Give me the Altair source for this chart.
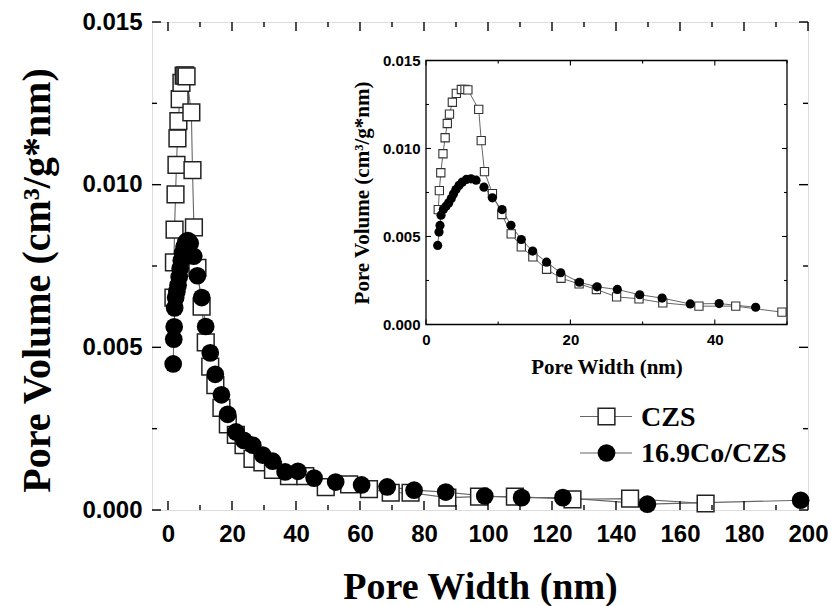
import altair as alt
import pandas as pd

# ---------------- data ----------------
czs_x = [1.70, 1.85, 2.05, 2.35, 2.65, 2.95, 3.25, 3.65, 4.20, 4.90, 5.40, 5.80,
         7.30, 7.65, 8.10, 9.20, 10.5, 11.8, 13.2, 14.8, 16.7, 18.7, 21.2, 23.6,
         26.4, 29.5, 32.8, 37.8, 42.9, 49.3, 56.6, 62.8, 69.6, 75.8, 87.3, 97.2,
         108.4, 126.4, 144.4, 168.0]
czs_y = [0.00653, 0.00761, 0.00862, 0.00970, 0.01061, 0.01142, 0.01195, 0.01263,
         0.01313, 0.01335, 0.01336, 0.01333, 0.01222, 0.01045, 0.00869, 0.00744,
         0.00625, 0.00515, 0.00441, 0.00384, 0.00314, 0.00263, 0.00231, 0.00199,
         0.00157, 0.00146, 0.00123, 0.00104, 0.00104, 0.00070, 0.00079, 0.00064,
         0.00053, 0.00053, 0.00038, 0.00041, 0.00041, 0.00033, 0.00035, 0.00020]

co_x = [1.62, 1.80, 1.94, 2.08, 2.40, 2.77, 3.14, 3.50, 3.80, 4.15, 4.57, 5.03,
        5.60, 6.23, 6.93, 8.03, 9.19, 10.53, 11.77, 13.2, 14.77, 16.7, 18.65,
        21.24, 23.7, 26.5, 29.6, 32.7, 36.6, 40.6, 45.66, 52.4, 60.5, 68.5, 76.9,
        86.8, 99.0, 110.5, 123.4, 149.8, 197.7]
co_y = [0.00449, 0.00525, 0.00563, 0.00621, 0.00653, 0.00672, 0.00691, 0.00716,
        0.00742, 0.00767, 0.00790, 0.00809, 0.00824, 0.00828, 0.00820, 0.00780,
        0.00720, 0.00653, 0.00564, 0.00483, 0.00417, 0.00354, 0.00294, 0.00240,
        0.00214, 0.00199, 0.00169, 0.00150, 0.00117, 0.00119, 0.00098, 0.00086,
        0.00077, 0.00071, 0.00061, 0.00055, 0.00043, 0.00038, 0.00038, 0.00018,
        0.00030]

legend_labels = ["CZS", "16.9Co/CZS"]

main_x_domain = [-5, 200]
main_y_domain = [0, 0.015]
main_x_major = [0, 20, 40, 60, 80, 100, 120, 140, 160, 180, 200]
main_x_minor = [10, 30, 50, 70, 90, 110, 130, 150, 170, 190]
main_y_major = [0, 0.005, 0.010, 0.015]
main_y_minor = [0.0025, 0.0075, 0.0125]

inset_x_domain = [0, 50]
inset_y_domain = [0, 0.015]
inset_x_major = [0, 20, 40]
inset_x_minor = [10, 30, 50]
inset_y_major = [0, 0.005, 0.010, 0.015]
inset_y_minor = [0.0025, 0.0075, 0.0125]

# ---------------- layout / style ----------------
W, H = 656, 488
IN_L, IN_R, IN_T, IN_B = 274, 635, 38.5, 302.5

SANS = "Liberation Sans"
SERIF = "Liberation Serif"
LINE_COLOR = "#666666"

czs_df = pd.DataFrame({"x": czs_x, "y": czs_y})
co_df = pd.DataFrame({"x": co_x, "y": co_y})
czs_in = czs_df[czs_df.x <= 50.5]
co_in = co_df[co_df.x <= 50.5]

# ---------------- main plot ----------------
xs = alt.Scale(domain=main_x_domain, nice=False, zero=False)
ys = alt.Scale(domain=main_y_domain, nice=False, zero=False)

x_axis = alt.Axis(values=main_x_major, format="d", ticks=False, domain=False, grid=False,
                  labelFont=SANS, labelFontWeight="bold", labelFontSize=24, labelColor="black",
                  labelPadding=12, labelFlush=False, labelOverlap=False,
                  title="Pore Width (nm)", titleFont=SERIF, titleFontSize=38,
                  titleFontWeight="bold", titleColor="black", titleY=88,
                  titleBaseline="alphabetic")
y_axis = alt.Axis(values=main_y_major, format=".3f", ticks=False, domain=False, grid=False,
                  labelFont=SANS, labelFontWeight="bold", labelFontSize=24, labelColor="black",
                  labelPadding=10, labelFlush=False, labelOverlap=False,
                  title="Pore Volume (cm\u00b3/g*nm)", titleFont=SERIF, titleFontSize=40,
                  titleFontWeight="bold", titleColor="black", titleAngle=-90,
                  titleX=-115, titleY=258, titleAlign="center", titleBaseline="middle")


def MX(field=None, datum=None):
    if datum is not None:
        return alt.X(datum=datum, scale=xs, axis=x_axis)
    return alt.X(field, scale=xs, axis=x_axis)


def MY(field=None, datum=None):
    if datum is not None:
        return alt.Y(datum=datum, scale=ys, axis=y_axis)
    return alt.Y(field, scale=ys, axis=y_axis)


def tick_df(vals):
    return pd.DataFrame({"v": vals})


main_layers = [
    alt.Chart(czs_df).mark_line(color=LINE_COLOR, strokeWidth=1.1).encode(x=MX("x:Q"), y=MY("y:Q")),
    alt.Chart(co_df).mark_line(color=LINE_COLOR, strokeWidth=1.1).encode(x=MX("x:Q"), y=MY("y:Q")),
    alt.Chart(czs_df).mark_square(size=280, fill="white", stroke="#222222", strokeWidth=1.5,
                                  opacity=1).encode(x=MX("x:Q"), y=MY("y:Q")),
    alt.Chart(co_df).mark_circle(size=314, color="black", opacity=1).encode(x=MX("x:Q"), y=MY("y:Q")),
]

for vals, ln in [(main_x_major, 9), (main_x_minor, 5)]:
    main_layers.append(alt.Chart(tick_df(vals)).mark_rule(color="black", strokeWidth=1.4, y2Offset=-ln)
                       .encode(x=MX("v:Q"), y=MY(datum=main_y_domain[0]),
                               y2=alt.Y2(datum=main_y_domain[0])))
    main_layers.append(alt.Chart(tick_df(vals)).mark_rule(color="black", strokeWidth=1.4, y2Offset=ln)
                       .encode(x=MX("v:Q"), y=MY(datum=main_y_domain[1]),
                               y2=alt.Y2(datum=main_y_domain[1])))
for vals, ln in [(main_y_major, 9), (main_y_minor, 5)]:
    main_layers.append(alt.Chart(tick_df(vals)).mark_rule(color="black", strokeWidth=1.4, x2Offset=ln)
                       .encode(y=MY("v:Q"), x=MX(datum=main_x_domain[0]),
                               x2=alt.X2(datum=main_x_domain[0])))
    main_layers.append(alt.Chart(tick_df(vals)).mark_rule(color="black", strokeWidth=1.4, x2Offset=-ln)
                       .encode(y=MY("v:Q"), x=MX(datum=main_x_domain[1]),
                               x2=alt.X2(datum=main_x_domain[1])))

main = alt.layer(*main_layers)

# ---------------- inset ----------------
ixs = alt.Scale(domain=inset_x_domain, range=[IN_L, IN_R], nice=False, zero=False)
iys = alt.Scale(domain=inset_y_domain, range=[IN_B, IN_T], nice=False, zero=False)

ix_axis = alt.Axis(values=inset_x_major, format="d", ticks=False, domain=False, grid=False,
                   orient="bottom", offset=-(H - IN_B),
                   labelFont=SANS, labelFontWeight="bold", labelFontSize=15, labelColor="black",
                   labelPadding=8, labelFlush=False, labelOverlap=False,
                   title="Pore Width (nm)", titleFont=SERIF, titleFontSize=21,
                   titleFontWeight="bold", titleColor="black", titleY=49,
                   titleBaseline="alphabetic")
iy_axis = alt.Axis(values=inset_y_major, format=".3f", ticks=False, domain=False, grid=False,
                   orient="left", offset=-IN_L,
                   labelFont=SANS, labelFontWeight="bold", labelFontSize=15, labelColor="black",
                   labelPadding=6, labelFlush=False, labelOverlap=False,
                   title="Pore Volume (cm\u00b3/g*nm)", titleFont=SERIF, titleFontSize=21,
                   titleFontWeight="bold", titleColor="black", titleAngle=-90,
                   titleX=-64, titleY=(IN_T + IN_B) / 2, titleAlign="center",
                   titleBaseline="middle")


def IX(field=None, datum=None):
    if datum is not None:
        return alt.X(datum=datum, scale=ixs, axis=ix_axis)
    return alt.X(field, scale=ixs, axis=ix_axis)


def IY(field=None, datum=None):
    if datum is not None:
        return alt.Y(datum=datum, scale=iys, axis=iy_axis)
    return alt.Y(field, scale=iys, axis=iy_axis)


frame_df = pd.DataFrame({"x": [inset_x_domain[0]], "x2": [inset_x_domain[1]],
                         "y": [inset_y_domain[0]], "y2": [inset_y_domain[1]]})

inset_layers = [
    alt.Chart(frame_df).mark_rect(fill="white", stroke="black", strokeWidth=1.3)
    .encode(x=IX("x:Q"), x2="x2:Q", y=IY("y:Q"), y2="y2:Q"),
    alt.Chart(czs_in).mark_line(color=LINE_COLOR, strokeWidth=1, clip=True).encode(x=IX("x:Q"), y=IY("y:Q")),
    alt.Chart(co_in).mark_line(color=LINE_COLOR, strokeWidth=1, clip=True).encode(x=IX("x:Q"), y=IY("y:Q")),
    alt.Chart(czs_in).mark_square(size=68, fill="white", stroke="#333333", strokeWidth=1.1,
                                  opacity=1).encode(x=IX("x:Q"), y=IY("y:Q")),
    alt.Chart(co_in).mark_circle(size=85, color="black", opacity=1).encode(x=IX("x:Q"), y=IY("y:Q")),
]
for vals, ln in [(inset_x_major, 5), (inset_x_minor, 3)]:
    inset_layers.append(alt.Chart(tick_df(vals)).mark_rule(color="black", strokeWidth=1.1, y2Offset=-ln)
                        .encode(x=IX("v:Q"), y=IY(datum=inset_y_domain[0]),
                                y2=alt.Y2(datum=inset_y_domain[0])))
    inset_layers.append(alt.Chart(tick_df(vals)).mark_rule(color="black", strokeWidth=1.1, y2Offset=ln)
                        .encode(x=IX("v:Q"), y=IY(datum=inset_y_domain[1]),
                                y2=alt.Y2(datum=inset_y_domain[1])))
for vals, ln in [(inset_y_major, 5), (inset_y_minor, 3)]:
    inset_layers.append(alt.Chart(tick_df(vals)).mark_rule(color="black", strokeWidth=1.1, x2Offset=ln)
                        .encode(y=IY("v:Q"), x=IX(datum=inset_x_domain[0]),
                                x2=alt.X2(datum=inset_x_domain[0])))
    inset_layers.append(alt.Chart(tick_df(vals)).mark_rule(color="black", strokeWidth=1.1, x2Offset=-ln)
                        .encode(y=IY("v:Q"), x=IX(datum=inset_x_domain[1]),
                                x2=alt.X2(datum=inset_x_domain[1])))

inset = alt.layer(*inset_layers)

# ---------------- legend (drawn manually) ----------------
LEG_X0, LEG_X1, LEG_SYM, LEG_TXT = 428, 480, 454.5, 489
LEG_Y = [394.5, 431]
leg_layers = []
for i, lab in enumerate(legend_labels):
    d = pd.DataFrame({"label": [lab]})
    leg_layers.append(alt.Chart(d).mark_rule(color=LINE_COLOR, strokeWidth=1.2)
                      .encode(x=alt.value(LEG_X0), x2=alt.value(LEG_X1), y=alt.value(LEG_Y[i])))
    if i == 0:
        leg_layers.append(alt.Chart(d).mark_square(size=280, fill="white", stroke="#222222",
                                                   strokeWidth=1.5, opacity=1)
                          .encode(x=alt.value(LEG_SYM), y=alt.value(LEG_Y[i])))
    else:
        leg_layers.append(alt.Chart(d).mark_circle(size=314, color="black", opacity=1)
                          .encode(x=alt.value(LEG_SYM), y=alt.value(LEG_Y[i])))
    leg_layers.append(alt.Chart(d).mark_text(align="left", baseline="middle", font=SERIF,
                                             fontSize=28, fontWeight="bold", color="black", dy=1)
                      .encode(x=alt.value(LEG_TXT), y=alt.value(LEG_Y[i]), text="label:N"))

chart = (
    alt.layer(main, inset, *leg_layers)
    .resolve_scale(x="independent", y="independent")
    .properties(width=W, height=H, autosize="none",
                padding={"left": 152, "top": 22, "right": 833 - 152 - W, "bottom": 606 - 22 - H})
    .configure_view(stroke="black", strokeWidth=1.5)
    .configure(background="white")
)

chart.save("out.html", embed_options={"renderer": "svg", "actions": False})
